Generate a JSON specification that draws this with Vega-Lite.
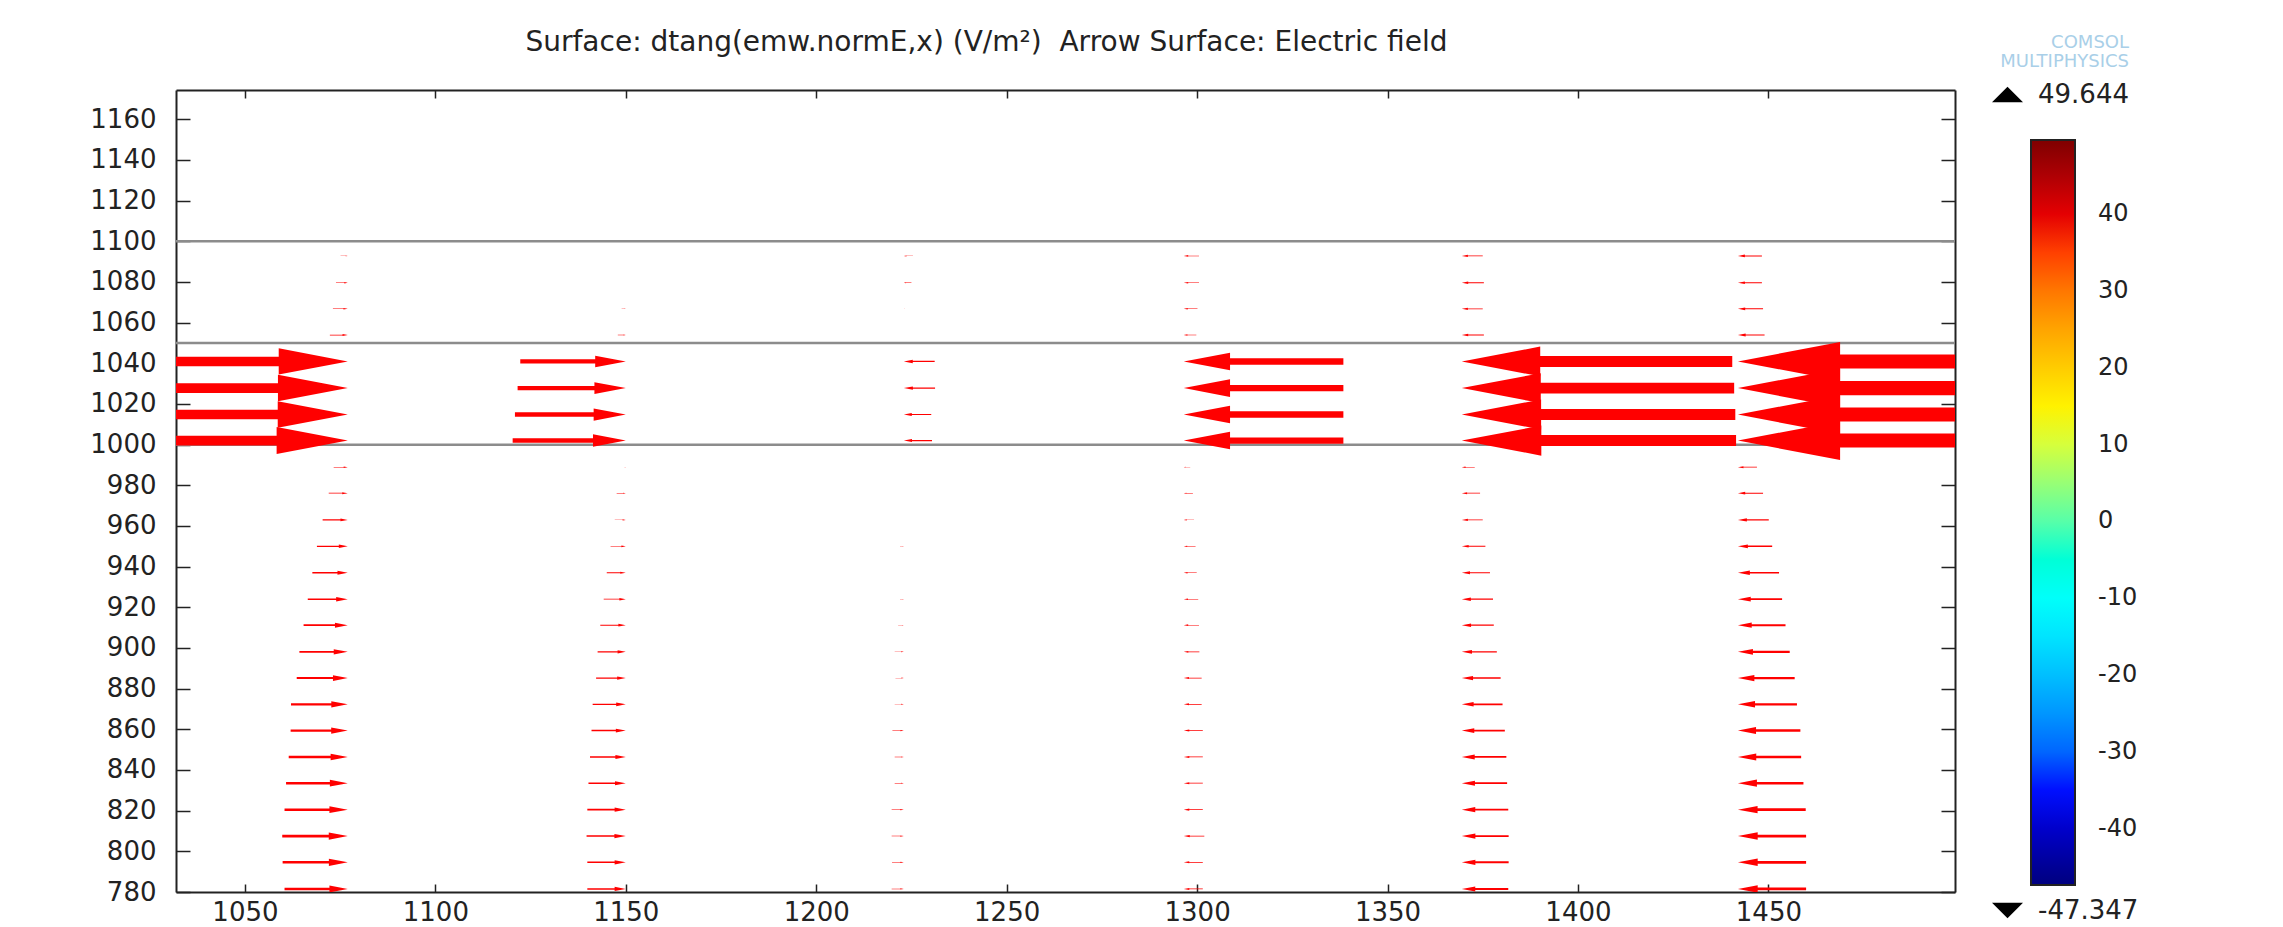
{
  "$schema": "https://vega.github.io/schema/vega-lite/v6.json",
  "autosize": "none",
  "width": 1779,
  "height": 802,
  "padding": {"left": 176, "top": 90, "right": 328, "bottom": 35},
  "background": "#ffffff",
  "title": {
    "text": "Surface: dtang(emw.normE,x) (V/m²)\u00a0 Arrow Surface: Electric field",
    "anchor": "middle",
    "frame": "group",
    "dx": -79,
    "offset": -45,
    "baseline": "alphabetic",
    "font": "DejaVu Sans",
    "fontSize": 28,
    "fontWeight": "normal",
    "color": "#222222"
  },
  "config": {
    "view": {"stroke": null},
    "axis": {"grid": false, "title": null}
  },
  "datasets": {
    "lines": [{"y": 1000}, {"y": 1050}, {"y": 1100}],
    "right": [
      {"x": 1077, "y": 1092.8, "len": 1.9}, {"x": 1077, "y": 1079.6, "len": 3.1}, {"x": 1077, "y": 1066.8, "len": 3.9}, {"x": 1077, "y": 1053.9, "len": 4.7},
      {"x": 1077, "y": 1040.9, "len": 62.5}, {"x": 1077, "y": 1027.8, "len": 63.2}, {"x": 1077, "y": 1014.8, "len": 63.4}, {"x": 1077, "y": 1002.0, "len": 64.4},
      {"x": 1077, "y": 988.9, "len": 3.7}, {"x": 1077, "y": 976.1, "len": 5.0}, {"x": 1077, "y": 963.0, "len": 6.6}, {"x": 1077, "y": 950.0, "len": 8.1},
      {"x": 1077, "y": 937.0, "len": 9.3}, {"x": 1077, "y": 924.0, "len": 10.5}, {"x": 1077, "y": 911.2, "len": 11.6}, {"x": 1077, "y": 898.1, "len": 12.7},
      {"x": 1077, "y": 885.2, "len": 13.4}, {"x": 1077, "y": 872.3, "len": 14.9}, {"x": 1077, "y": 859.4, "len": 15.0}, {"x": 1077, "y": 846.4, "len": 15.5},
      {"x": 1077, "y": 833.5, "len": 16.2}, {"x": 1077, "y": 820.5, "len": 16.6}, {"x": 1077, "y": 807.5, "len": 17.2}, {"x": 1077, "y": 794.6, "len": 17.1},
      {"x": 1077, "y": 781.5, "len": 16.6},
      {"x": 1150, "y": 1066.8, "len": 1.1}, {"x": 1150, "y": 1053.9, "len": 2.1},
      {"x": 1150, "y": 1040.9, "len": 27.7}, {"x": 1150, "y": 1027.8, "len": 28.4}, {"x": 1150, "y": 1014.8, "len": 29.1}, {"x": 1150, "y": 1002.0, "len": 29.7},
      {"x": 1150, "y": 988.9, "len": 0.9}, {"x": 1150, "y": 976.1, "len": 2.4}, {"x": 1150, "y": 963.0, "len": 2.9}, {"x": 1150, "y": 950.0, "len": 4.0},
      {"x": 1150, "y": 937.0, "len": 5.0}, {"x": 1150, "y": 924.0, "len": 5.8}, {"x": 1150, "y": 911.2, "len": 6.7}, {"x": 1150, "y": 898.1, "len": 7.4},
      {"x": 1150, "y": 885.2, "len": 7.8}, {"x": 1150, "y": 872.3, "len": 8.7}, {"x": 1150, "y": 859.4, "len": 9.0}, {"x": 1150, "y": 846.4, "len": 9.4},
      {"x": 1150, "y": 833.5, "len": 9.8}, {"x": 1150, "y": 820.5, "len": 10.1}, {"x": 1150, "y": 807.5, "len": 10.3}, {"x": 1150, "y": 794.6, "len": 10.1},
      {"x": 1150, "y": 781.5, "len": 10.1},
      {"x": 1223, "y": 950.0, "len": 1.0}, {"x": 1223, "y": 937.0, "len": 0.5}, {"x": 1223, "y": 924.0, "len": 1.0}, {"x": 1223, "y": 911.2, "len": 1.5},
      {"x": 1223, "y": 898.1, "len": 2.4}, {"x": 1223, "y": 885.2, "len": 2.2}, {"x": 1223, "y": 872.3, "len": 2.4}, {"x": 1223, "y": 859.4, "len": 3.0},
      {"x": 1223, "y": 846.4, "len": 2.4}, {"x": 1223, "y": 833.5, "len": 2.4}, {"x": 1223, "y": 820.5, "len": 3.2}, {"x": 1223, "y": 807.5, "len": 3.2},
      {"x": 1223, "y": 794.6, "len": 3.1}, {"x": 1223, "y": 781.5, "len": 3.2}
    ],
    "left": [
      {"x": 1223, "y": 1092.8, "len": 2.4}, {"x": 1223, "y": 1079.6, "len": 2.0}, {"x": 1223, "y": 1066.8, "len": 0.7},
      {"x": 1223, "y": 1040.9, "len": 8.1}, {"x": 1223, "y": 1027.8, "len": 8.2}, {"x": 1223, "y": 1014.8, "len": 7.2}, {"x": 1223, "y": 1002.0, "len": 7.4},
      {"x": 1296.5, "y": 1092.8, "len": 4.0}, {"x": 1296.5, "y": 1079.6, "len": 4.0}, {"x": 1296.5, "y": 1066.8, "len": 3.6}, {"x": 1296.5, "y": 1053.9, "len": 3.3},
      {"x": 1296.5, "y": 1040.9, "len": 41.9}, {"x": 1296.5, "y": 1027.8, "len": 41.9}, {"x": 1296.5, "y": 1014.8, "len": 41.9}, {"x": 1296.5, "y": 1002.0, "len": 41.9},
      {"x": 1296.5, "y": 988.9, "len": 1.7}, {"x": 1296.5, "y": 976.1, "len": 2.4}, {"x": 1296.5, "y": 963.0, "len": 2.7}, {"x": 1296.5, "y": 950.0, "len": 3.1},
      {"x": 1296.5, "y": 937.0, "len": 3.4}, {"x": 1296.5, "y": 924.0, "len": 3.8}, {"x": 1296.5, "y": 911.2, "len": 4.0}, {"x": 1296.5, "y": 898.1, "len": 4.1},
      {"x": 1296.5, "y": 885.2, "len": 4.7}, {"x": 1296.5, "y": 872.3, "len": 4.7}, {"x": 1296.5, "y": 859.4, "len": 5.0}, {"x": 1296.5, "y": 846.4, "len": 5.0},
      {"x": 1296.5, "y": 833.5, "len": 5.0}, {"x": 1296.5, "y": 820.5, "len": 5.0}, {"x": 1296.5, "y": 807.5, "len": 5.4}, {"x": 1296.5, "y": 794.6, "len": 5.0},
      {"x": 1296.5, "y": 781.5, "len": 5.0},
      {"x": 1369.5, "y": 1092.8, "len": 5.5}, {"x": 1369.5, "y": 1079.6, "len": 5.8}, {"x": 1369.5, "y": 1066.8, "len": 5.5}, {"x": 1369.5, "y": 1053.9, "len": 5.8},
      {"x": 1369.5, "y": 1040.9, "len": 71.0}, {"x": 1369.5, "y": 1027.8, "len": 71.5}, {"x": 1369.5, "y": 1014.8, "len": 71.8}, {"x": 1369.5, "y": 1002.0, "len": 72.0},
      {"x": 1369.5, "y": 988.9, "len": 3.4}, {"x": 1369.5, "y": 976.1, "len": 4.8}, {"x": 1369.5, "y": 963.0, "len": 5.5}, {"x": 1369.5, "y": 950.0, "len": 6.2},
      {"x": 1369.5, "y": 937.0, "len": 7.4}, {"x": 1369.5, "y": 924.0, "len": 8.2}, {"x": 1369.5, "y": 911.2, "len": 8.4}, {"x": 1369.5, "y": 898.1, "len": 9.2},
      {"x": 1369.5, "y": 885.2, "len": 10.2}, {"x": 1369.5, "y": 872.3, "len": 10.7}, {"x": 1369.5, "y": 859.4, "len": 11.3}, {"x": 1369.5, "y": 846.4, "len": 11.7},
      {"x": 1369.5, "y": 833.5, "len": 11.9}, {"x": 1369.5, "y": 820.5, "len": 12.2}, {"x": 1369.5, "y": 807.5, "len": 12.3}, {"x": 1369.5, "y": 794.6, "len": 12.3},
      {"x": 1369.5, "y": 781.5, "len": 12.2},
      {"x": 1442, "y": 1092.8, "len": 6.3}, {"x": 1442, "y": 1079.6, "len": 6.3}, {"x": 1442, "y": 1066.8, "len": 6.6}, {"x": 1442, "y": 1053.9, "len": 7.0},
      {"x": 1442, "y": 1040.9, "len": 92.5}, {"x": 1442, "y": 1027.8, "len": 92.5}, {"x": 1442, "y": 1014.8, "len": 92.5}, {"x": 1442, "y": 1002.0, "len": 92.5},
      {"x": 1442, "y": 988.9, "len": 5.0}, {"x": 1442, "y": 976.1, "len": 6.6}, {"x": 1442, "y": 963.0, "len": 8.1}, {"x": 1442, "y": 950.0, "len": 9.0},
      {"x": 1442, "y": 937.0, "len": 10.8}, {"x": 1442, "y": 924.0, "len": 11.6}, {"x": 1442, "y": 911.2, "len": 12.5}, {"x": 1442, "y": 898.1, "len": 13.6},
      {"x": 1442, "y": 885.2, "len": 14.9}, {"x": 1442, "y": 872.3, "len": 15.5}, {"x": 1442, "y": 859.4, "len": 16.4}, {"x": 1442, "y": 846.4, "len": 16.6},
      {"x": 1442, "y": 833.5, "len": 17.2}, {"x": 1442, "y": 820.5, "len": 17.8}, {"x": 1442, "y": 807.5, "len": 17.9}, {"x": 1442, "y": 794.6, "len": 17.9},
      {"x": 1442, "y": 781.5, "len": 17.9}
    ],
    "cbar": [{"v": -47.347}, {"v": 49.644}],
    "maxm": [{"m": "49.644"}],
    "minm": [{"m": "-47.347"}]
  },
  "resolve": {
    "scale": {"shape": "independent"},
    "axis": {"x": "independent", "y": "independent"}
  },
  "layer": [
    {
      "data": {"name": "lines"},
      "mark": {"type": "rule", "color": "#8c8c8c", "strokeWidth": 2.5},
      "encoding": {
        "y": {"field": "y", "type": "quantitative", "scale": {"domain": [780, 1174.4], "nice": false, "zero": false}, "axis": null}
      }
    },
    {
      "data": {"name": "right"},
      "mark": {"type": "point", "shape": "M0,0L-0.58,-0.11L-0.58,-0.04L-2,-0.04L-2,0.04L-0.58,0.04L-0.58,0.11Z", "filled": true, "color": "#ff0000", "opacity": 1, "strokeWidth": 0, "clip": true},
      "encoding": {
        "x": {"field": "x", "type": "quantitative", "scale": {"domain": [1031.9, 1499], "nice": false, "zero": false},
          "axis": {"orient": "bottom", "values": [1050, 1100, 1150, 1200, 1250, 1300, 1350, 1400, 1450], "format": "d", "tickSize": -8, "tickWidth": 1.5, "tickColor": "#222222", "domainColor": "#222222", "domainWidth": 2, "labelFont": "DejaVu Sans", "labelFontSize": 26, "labelColor": "#222222", "labelPadding": 15, "labelFlush": false, "labelOverlap": false}},
        "y": {"field": "y", "type": "quantitative", "scale": {"domain": [780, 1174.4], "nice": false, "zero": false},
          "axis": {"orient": "left", "values": [780, 800, 820, 840, 860, 880, 900, 920, 940, 960, 980, 1000, 1020, 1040, 1060, 1080, 1100, 1120, 1140, 1160], "format": "d", "tickSize": -14, "tickWidth": 1.5, "tickColor": "#222222", "domainColor": "#222222", "domainWidth": 2, "labelFont": "DejaVu Sans", "labelFontSize": 26, "labelColor": "#222222", "labelPadding": 34, "labelFlush": false, "labelOverlap": false}},
        "size": {"field": "len", "type": "quantitative", "scale": {"type": "pow", "exponent": 2, "domain": [0, 100], "range": [0, 145122]}, "legend": null}
      }
    },
    {
      "data": {"name": "left"},
      "mark": {"type": "point", "shape": "M0,0L0.58,-0.11L0.58,-0.04L2,-0.04L2,0.04L0.58,0.04L0.58,0.11Z", "filled": true, "color": "#ff0000", "opacity": 1, "strokeWidth": 0, "clip": true},
      "encoding": {
        "x": {"field": "x", "type": "quantitative", "scale": {"domain": [1031.9, 1499], "nice": false, "zero": false},
          "axis": {"orient": "top", "values": [1050, 1100, 1150, 1200, 1250, 1300, 1350, 1400, 1450], "labels": false, "tickSize": -8, "tickWidth": 1.5, "tickColor": "#222222", "domainColor": "#222222", "domainWidth": 2}},
        "y": {"field": "y", "type": "quantitative", "scale": {"domain": [780, 1174.4], "nice": false, "zero": false},
          "axis": {"orient": "right", "values": [780, 800, 820, 840, 860, 880, 900, 920, 940, 960, 980, 1000, 1020, 1040, 1060, 1080, 1100, 1120, 1140, 1160], "labels": false, "tickSize": -14, "tickWidth": 1.5, "tickColor": "#222222", "domainColor": "#222222", "domainWidth": 2}},
        "size": {"field": "len", "type": "quantitative", "scale": {"type": "pow", "exponent": 2, "domain": [0, 100], "range": [0, 145122]}, "legend": null}
      }
    },
    {
      "data": {"name": "cbar"},
      "mark": {"type": "point", "size": 0, "strokeWidth": 0, "filled": true, "opacity": 1},
      "encoding": {
        "color": {"field": "v", "type": "quantitative",
          "scale": {"type": "linear", "domain": [-47.347, -35.22, -10.97, 13.27, 37.52, 49.644], "range": ["#00007f", "#0000ff", "#00ffff", "#ffff00", "#ff0000", "#7f0000"]},
          "legend": {"orient": "none", "legendX": 1855, "legendY": 50, "direction": "vertical", "title": null, "padding": 0,
            "gradientLength": 745, "gradientThickness": 44, "gradientStrokeColor": "#222222", "gradientStrokeWidth": 2, "gradientOpacity": 1,
            "values": [-40, -30, -20, -10, 0, 10, 20, 30, 40], "labelExpr": "'' + datum.value",
            "labelFont": "DejaVu Sans", "labelFontSize": 24, "labelColor": "#222222", "labelOffset": 23, "labelOverlap": false}}
      }
    },
    {
      "data": {"name": "maxm"},
      "mark": {"type": "point", "size": 0, "strokeWidth": 0, "filled": true, "color": "#000000", "opacity": 1},
      "encoding": {
        "shape": {"field": "m", "type": "nominal", "scale": {"range": ["M-1,0.5L1,0.5L0,-0.5Z"]},
          "legend": {"orient": "none", "legendX": 1816, "legendY": -56, "padding": 0,
            "title": ["COMSOL", "MULTIPHYSICS"], "titleColor": "#a9cfe8", "titleFont": "DejaVu Sans", "titleFontSize": 18, "titleFontWeight": "normal", "titleLineHeight": 19, "titleAnchor": "end", "titleAlign": "right", "titlePadding": 8,
            "symbolSize": 961, "symbolFillColor": "#111111", "symbolStrokeColor": "#111111", "symbolStrokeWidth": 0, "symbolOpacity": 1,
            "labelFont": "DejaVu Sans", "labelFontSize": 26, "labelColor": "#222222", "labelOffset": 15}}
      }
    },
    {
      "data": {"name": "minm"},
      "mark": {"type": "point", "size": 0, "strokeWidth": 0, "filled": true, "color": "#000000", "opacity": 1},
      "encoding": {
        "shape": {"field": "m", "type": "nominal", "scale": {"range": ["M-1,-0.5L1,-0.5L0,0.5Z"]},
          "legend": {"orient": "none", "legendX": 1816, "legendY": 805, "padding": 0, "title": null,
            "symbolSize": 961, "symbolFillColor": "#111111", "symbolStrokeColor": "#111111", "symbolStrokeWidth": 0, "symbolOpacity": 1,
            "labelFont": "DejaVu Sans", "labelFontSize": 26, "labelColor": "#222222", "labelOffset": 15}}
      }
    }
  ]
}
